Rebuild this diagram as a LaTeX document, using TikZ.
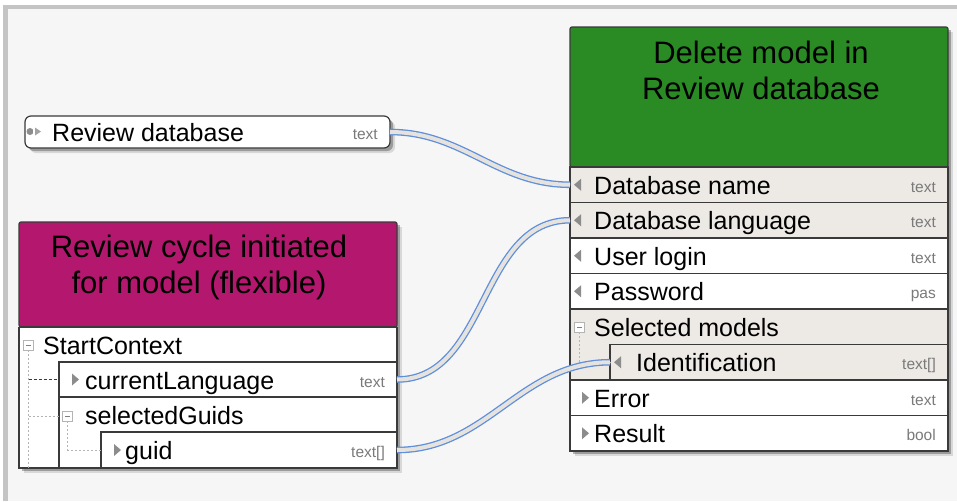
\documentclass[tikz,border=0pt]{standalone}
\usepackage{fontspec}
\setmainfont{Liberation Sans}
\usetikzlibrary{shadows}
\definecolor{bgc}{HTML}{F6F6F6}
\definecolor{framec}{HTML}{C4C4C4}
\definecolor{pinkc}{HTML}{B4186E}
\definecolor{greenc}{HTML}{2A8A24}
\definecolor{beige}{HTML}{EDE9E5}
\definecolor{edgec}{HTML}{3A3A3A}
\definecolor{typec}{HTML}{7A7A7A}
\definecolor{tric}{HTML}{8C8C8C}
\definecolor{treec}{HTML}{B4B4B4}
\definecolor{wireblue}{HTML}{5F8FDA}
\definecolor{wirein}{HTML}{E6E3DF}
\tikzset{
  cell/.style={anchor=north west, inner sep=0pt, outer sep=0pt, draw=edgec, line width=1.2pt},
  dshadow/.style={drop shadow={shadow xshift=3pt, shadow yshift=-3pt, opacity=0.28, fill=black},
                  drop shadow={shadow xshift=5pt, shadow yshift=-5pt, opacity=0.12, fill=black}},
  rowtext/.style={anchor=base west, inner sep=0pt, font=\fontsize{25}{29}\selectfont},
  typetext/.style={anchor=base east, inner sep=0pt, text=typec, font=\fontsize{15.5}{18}\selectfont},
  headtext/.style={align=center, inner sep=0pt, font=\fontsize{31}{36}\selectfont},
  minusbox/.style={draw=treec, fill=white, minimum size=10pt, inner sep=0pt, line width=0.8pt,
     path picture={\draw[gray, line width=0.8pt] ([xshift=-2.5pt]path picture bounding box.center) -- ([xshift=2.5pt]path picture bounding box.center);}},
  treeline/.style={draw=treec, line width=0.8pt, dash pattern=on 2pt off 2pt},
  treedark/.style={draw=edgec, line width=0.8pt, dash pattern=on 3pt off 2pt},
  wire/.style={draw=wireblue, line width=1.3pt, double=wirein, double distance=4pt},
  outer/.style={draw=edgec, line width=1.5pt}
}
\newcommand{\trR}[2]{\fill[tric] (#1,#2-6) -- (#1+7,#2) -- (#1,#2+6) -- cycle;}
\newcommand{\trL}[2]{\fill[tric] (#1+7,#2-6) -- (#1,#2) -- (#1+7,#2+6) -- cycle;}
\begin{document}
\begin{tikzpicture}[x=1pt,y=-1pt]
\useasboundingbox (0,0) rectangle (957,501);
\fill[white] (0,0) rectangle (957,501);
\fill[bgc] (8,9) rectangle (957,501);
\fill[framec] (3,5) rectangle (957,9);
\fill[framec] (3,5) rectangle (8,501);

% ---------- Review database ----------
\node[cell, rounded corners=6pt, minimum width=365pt, minimum height=32pt, fill=white, dshadow] (rd) at (25,116) {};
\fill[tric] (30,131.5) circle (3.5pt);
\fill[white] (33,126) rectangle (34.5,137);
\fill[tric!80] (35,127.5) -- (41,131.5) -- (35,135.5) -- cycle;
\node[rowtext] (rdt) at (52,141) {Review database};
\node[typetext] (rdty) at (378,139) {text};

% ---------- Pink event node ----------
\node[cell, draw=none, fill=white, dshadow, minimum width=378pt, minimum height=246pt] (pn) at (19,222) {};
\node[cell, fill=pinkc, rounded corners=2pt, minimum width=378pt, minimum height=105pt] (ph) at (19,222) {};
\node[headtext] (pht) at (199,267.5) {Review cycle initiated\\for model (flexible)};
\node[cell, draw=none, minimum width=378pt, minimum height=35pt] (p1) at (19,327) {};
\node[cell, fill=white, minimum width=338pt, minimum height=35pt] (p2) at (59,362) {};
\node[cell, fill=white, minimum width=338pt, minimum height=71pt] (p3) at (59,397) {};
\node[cell, fill=white, minimum width=296pt, minimum height=36pt] (p4) at (101,432) {};
\draw[outer] (ph.south west) -- (pn.south west) -- (pn.south east) -- (ph.south east);
\draw[edgec, line width=1.2pt] (ph.south west) -- (ph.south east);

\node[minusbox] (m1) at (28.5,345) {};
\node[minusbox] (m2) at (67.5,416) {};
\draw[treeline] (m1.south) -- (m1.south |- pn.south);
\draw[treedark] (m1.south |- p2.west) -- (p2.west);
\draw[treeline] (m1.south |- m2) -- (p3.west |- m2);
\draw[treeline] (m2.south) |- (p4.west);

\node[rowtext] (p1t) at (43,354) {StartContext};
\trR{72}{379.5}
\node[rowtext] (p2t) at (85,389) {currentLanguage};
\node[typetext] (p2y) at (385,387) {text};
\node[rowtext] (p3t) at (85,424) {selectedGuids};
\trR{114}{450}
\node[rowtext] (p4t) at (125,459) {guid};
\node[typetext] (p4y) at (385,457) {text[]};

% ---------- Green function node ----------
\node[cell, draw=none, fill=white, dshadow, minimum width=378pt, minimum height=424pt] (gn) at (570,27) {};
\node[cell, fill=greenc, rounded corners=2pt, minimum width=378pt, minimum height=140pt] (gh) at (570,27) {};
\node[headtext] (ght) at (761,70) {Delete model in\\Review database};
\node[cell, fill=beige, minimum width=378pt, minimum height=35.5pt] (g1) at (570,167) {};
\node[cell, fill=beige, minimum width=378pt, minimum height=35.5pt] (g2) at (570,202.5) {};
\node[cell, fill=white, minimum width=378pt, minimum height=35.5pt] (g3) at (570,238) {};
\node[cell, fill=white, minimum width=378pt, minimum height=35.5pt] (g4) at (570,273.5) {};
\node[cell, fill=beige, minimum width=378pt, minimum height=71pt] (g5) at (570,309) {};
\node[cell, fill=beige, minimum width=338pt, minimum height=35.5pt] (g6) at (610,344.5) {};
\node[cell, fill=white, minimum width=378pt, minimum height=35.5pt] (g7) at (570,380) {};
\node[cell, fill=white, minimum width=378pt, minimum height=35.5pt] (g8) at (570,415.5) {};
\draw[outer] (gh.south west) -- (gn.south west) -- (gn.south east) -- (gh.south east);

\trL{574}{184.75}
\node[rowtext] (g1t) at (594,194) {Database name};
\node[typetext] (g1y) at (936,192) {text};
\trL{574}{220.25}
\node[rowtext] (g2t) at (594,229.5) {Database language};
\node[typetext] (g2y) at (936,227.5) {text};
\trL{574}{255.75}
\node[rowtext] (g3t) at (594,265) {User login};
\node[typetext] (g3y) at (936,263) {text};
\trL{574}{291.25}
\node[rowtext] (g4t) at (594,300.5) {Password};
\node[typetext] (g4y) at (936,298.5) {pas};
\node[minusbox] (m3) at (579.5,327) {};
\draw[treeline] (m3.south) |- (g6.west);
\node[rowtext] (g5t) at (594,336) {Selected models};
\trL{614}{362.25}
\node[rowtext] (g6t) at (636,371.5) {Identification};
\node[typetext] (g6y) at (936,369.5) {text[]};
\trR{582}{397.75}
\node[rowtext] (g7t) at (594,407) {Error};
\node[typetext] (g7y) at (936,405) {text};
\trR{582}{433.25}
\node[rowtext] (g8t) at (594,442.5) {Result};
\node[typetext] (g8y) at (936,440.5) {bool};

% ---------- connectors ----------
\draw[wire] (rd.east) to[out=0,in=180] (g1.west);
\draw[wire] (p2.east) to[out=0,in=180] (g2.west);
\draw[wire] (p4.east) to[out=0,in=180] (g6.west);
\end{tikzpicture}
\end{document}
